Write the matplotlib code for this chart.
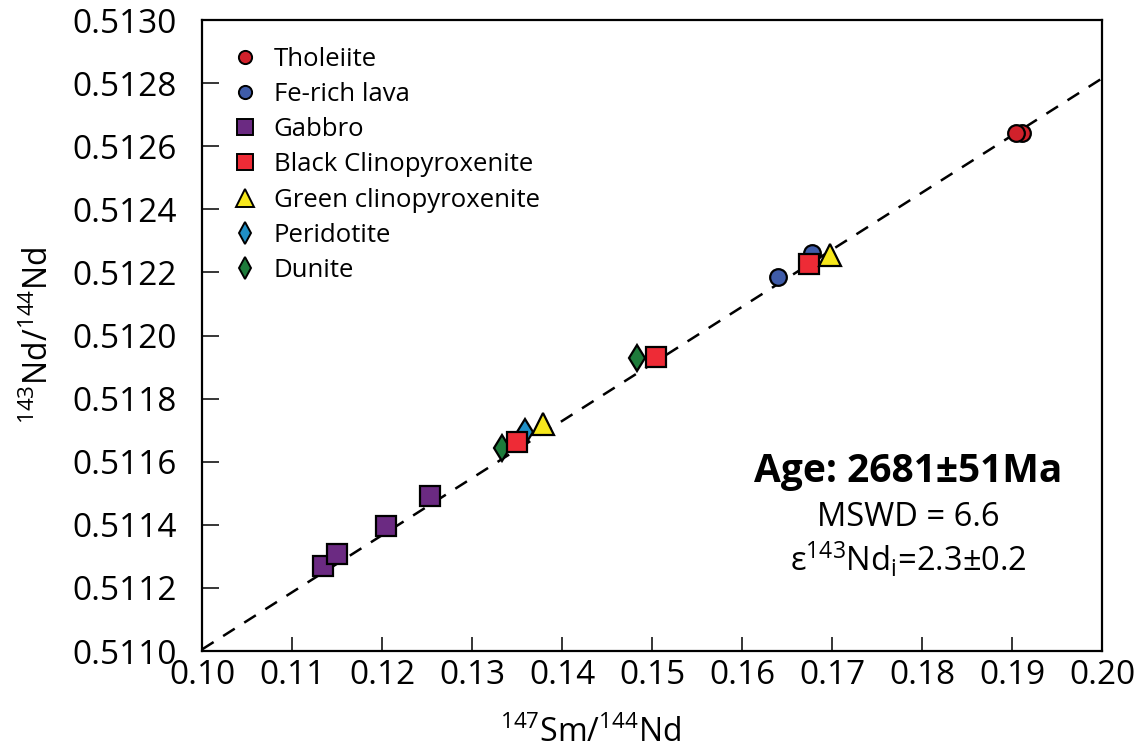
import numpy as np
import matplotlib
matplotlib.use("Agg")
import matplotlib.pyplot as plt
from matplotlib.lines import Line2D

plt.rcParams['font.family'] = ['Open Sans', 'DejaVu Sans']
plt.rcParams['mathtext.default'] = 'regular'

# 147Sm/144Nd and 143Nd/144Nd for each rock group
tholeiite_x = [0.1911, 0.1904]
tholeiite_y = [0.512642, 0.512642]

fe_lava_x = [0.1640, 0.1678]
fe_lava_y = [0.512187, 0.512263]

gabbro_x = [0.1134, 0.1150, 0.1204, 0.1253]
gabbro_y = [0.511269, 0.511307, 0.511395, 0.511490]

peridotite_x = [0.1359]
peridotite_y = [0.511693]

dunite_x = [0.1333, 0.1483]
dunite_y = [0.511645, 0.511930]

black_cpx_x = [0.1350, 0.1504, 0.1674]
black_cpx_y = [0.511661, 0.511933, 0.512228]

green_cpx_x = [0.1379, 0.1698]
green_cpx_y = [0.511718, 0.512256]

# isochron fit
iso_slope = 0.01810
iso_intercept = 0.509195

fig = plt.figure(figsize=(11.4, 7.5), dpi=100)
ax = fig.add_axes([0.1772, 0.132, 0.7895, 0.8413])

xx = np.array([0.10, 0.20])
ax.plot(xx, iso_intercept + iso_slope * xx, color='black', lw=1.8,
        dashes=(5.5, 4.5), zorder=1)

ec = 'black'
mew = 1.6
ax.plot(tholeiite_x, tholeiite_y, 'o', ms=12, mfc='#d1212b', mec=ec, mew=mew, zorder=3)
ax.plot(fe_lava_x, fe_lava_y, 'o', ms=12, mfc='#3f5ca9', mec=ec, mew=mew, zorder=3)
ax.plot(gabbro_x, gabbro_y, 's', ms=15, mfc='#6b2a82', mec=ec, mew=mew, zorder=3)
ax.plot(peridotite_x, peridotite_y, 'd', ms=13.5, mfc='#1f8fc6', mec=ec, mew=mew, zorder=3)
ax.plot(dunite_x, dunite_y, 'd', ms=13.5, mfc='#1e7b3b', mec=ec, mew=mew, zorder=3)
ax.plot(black_cpx_x, black_cpx_y, 's', ms=15, mfc='#ee2b36', mec=ec, mew=mew, zorder=4)
ax.plot(green_cpx_x, green_cpx_y, '^', ms=16, mfc='#f6e71c', mec=ec, mew=mew, zorder=5)

ax.set_xlim(0.10, 0.20)
ax.set_ylim(0.5110, 0.5130)
ax.set_xticks(np.arange(0.10, 0.2001, 0.01))
ax.set_yticks(np.arange(0.5110, 0.51301, 0.0002))
ax.set_xticklabels([f"{v:.2f}" for v in np.arange(0.10, 0.2001, 0.01)])
ax.set_yticklabels([f"{v:.4f}" for v in np.arange(0.5110, 0.51301, 0.0002)])
ax.tick_params(axis='both', direction='in', labelsize=24, width=1.1, color='black')
ax.tick_params(axis='y', length=12, pad=18)
ax.tick_params(axis='x', length=10, pad=6)
for s in ax.spines.values():
    s.set_linewidth(1.6)

ax.set_xlabel('$^{147}$Sm/$^{144}$Nd', fontsize=23)
ax.xaxis.set_label_coords(0.432, -0.104)
ax.set_ylabel('$^{143}$Nd/$^{144}$Nd', fontsize=23)
ax.yaxis.set_label_coords(-0.162, 0.5)

handles = [
    Line2D([], [], ls='none', marker='o', ms=9.5, mfc='#d1212b', mec=ec, mew=1.4),
    Line2D([], [], ls='none', marker='o', ms=9.5, mfc='#3f5ca9', mec=ec, mew=1.4),
    Line2D([], [], ls='none', marker='s', ms=12, mfc='#6b2a82', mec=ec, mew=1.4),
    Line2D([], [], ls='none', marker='s', ms=12, mfc='#ee2b36', mec=ec, mew=1.4),
    Line2D([], [], ls='none', marker='^', ms=13, mfc='#f6e71c', mec=ec, mew=1.4),
    Line2D([], [], ls='none', marker='d', ms=11, mfc='#1f8fc6', mec=ec, mew=1.4),
    Line2D([], [], ls='none', marker='d', ms=11, mfc='#1e7b3b', mec=ec, mew=1.4),
]
labels = ['Tholeiite', 'Fe-rich lava', 'Gabbro', 'Black Clinopyroxenite',
          'Green clinopyroxenite', 'Peridotite', 'Dunite']
ax.legend(handles, labels, loc='upper left', bbox_to_anchor=(0.034, 0.958),
          frameon=False, fontsize=18.5, handlelength=1.0, handletextpad=0.6,
          borderpad=0, borderaxespad=0, labelspacing=0.4)

ax.text(0.785, 0.284, 'Age: 2681±51Ma', transform=ax.transAxes, ha='center',
        va='center', fontsize=28, fontweight='bold')
ax.text(0.785, 0.212, 'MSWD = 6.6', transform=ax.transAxes, ha='center',
        va='center', fontsize=23.5)
ax.text(0.785, 0.144, 'ε$^{143}$Nd$_{i}$=2.3±0.2', transform=ax.transAxes,
        ha='center', va='center', fontsize=23.5)

fig.savefig('out.png', dpi=100)
